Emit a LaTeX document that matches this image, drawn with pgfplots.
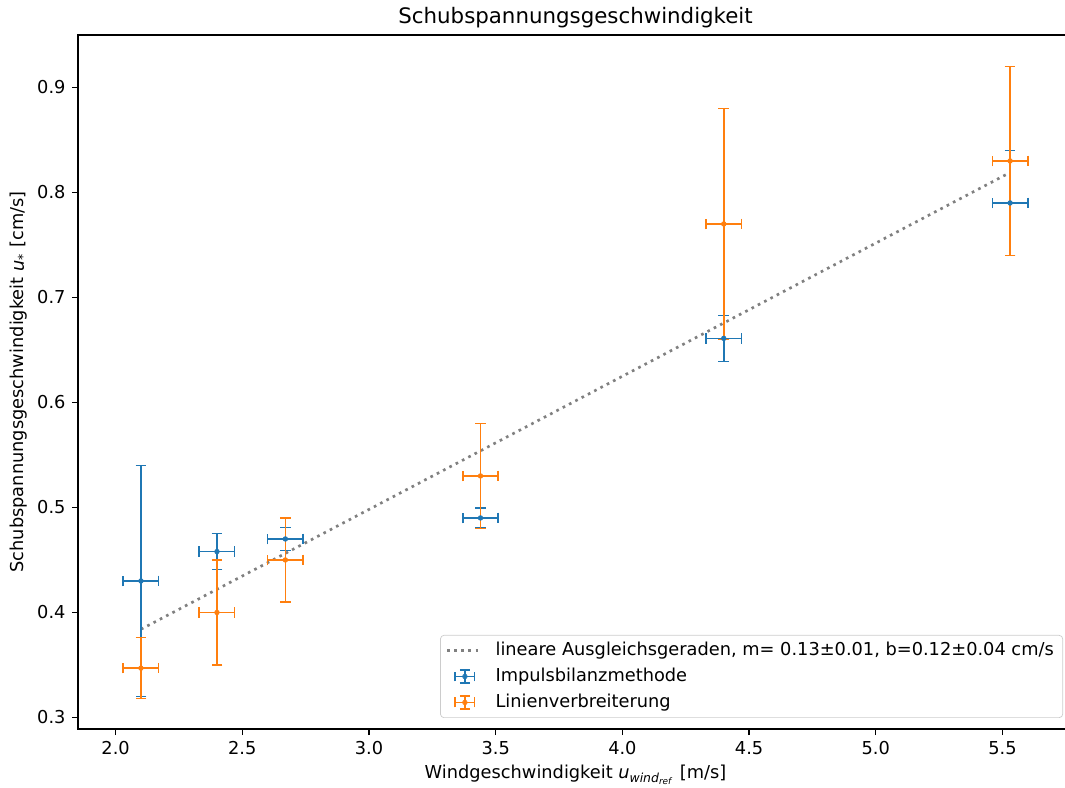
\documentclass[border=0pt]{standalone}
\usepackage{fontspec}
\setmainfont{DejaVu Sans}
\setsansfont{DejaVu Sans}
\usepackage{pgfplots}
\usepackage{pgfplotstable}
\pgfplotsset{compat=1.18}

\definecolor{mplblue}{HTML}{1F77B4}
\definecolor{mplorange}{HTML}{FF7F0E}
\definecolor{mplgray}{HTML}{808080}
\definecolor{legendframe}{HTML}{CCCCCC}

% x, y, x error, y error
\pgfplotstableread{
x     y      xe     ye
2.10  0.430  0.07   0.110
2.40  0.458  0.07   0.017
2.67  0.470  0.07   0.011
3.44  0.490  0.07   0.0095
4.40  0.661  0.07   0.022
5.53  0.790  0.07   0.050
}\impuls

\pgfplotstableread{
x     y      xe     ye
2.10  0.347  0.07   0.029
2.40  0.400  0.07   0.050
2.67  0.450  0.07   0.040
3.44  0.530  0.07   0.050
4.40  0.770  0.07   0.110
5.53  0.830  0.07   0.090
}\linien

\pgfplotsset{
  every axis title/.style={at={(0.5,1)}, anchor=base, yshift=6.4pt},
  dotlegend/.style={
    legend image code/.code={\draw[##1] (0pt,0pt) -- (20pt,0pt);}
  },
  errlegend/.style={
    legend image code/.code={
      \draw[##1, line width=0.85pt]
        (4.5pt,0pt) -- (15.5pt,0pt)
        (10pt,-3.6pt) -- (10pt,3.6pt)
        (4.5pt,-2.8pt) -- (4.5pt,2.8pt)
        (15.5pt,-2.8pt) -- (15.5pt,2.8pt)
        (7.2pt,3.6pt) -- (12.8pt,3.6pt)
        (7.2pt,-3.6pt) -- (12.8pt,-3.6pt);
      \fill[##1] (10pt,0pt) circle (1.3pt);
    }
  },
  errdata/.style={
    only marks, mark=*, mark size=1.3pt,
    forget plot,
    error bars/.cd,
      x dir=both, x explicit,
      y dir=both, y explicit,
      error bar style={line width=0.85pt},
      error mark options={rotate=90, line width=0.85pt, mark size=3pt},
  },
}

\begin{document}
\begin{tikzpicture}
\begin{axis}[
  name=ax,
  scale only axis,
  width=559.7pt, height=390.4pt,
  xmin=1.8515, xmax=5.7785,
  ymin=0.289, ymax=0.950,
  xtick={2.0,2.5,3.0,3.5,4.0,4.5,5.0,5.5},
  ytick={0.3,0.4,0.5,0.6,0.7,0.8,0.9},
  /pgf/number format/assume math mode=true,
  xticklabel style={/pgf/number format/.cd, fixed, fixed zerofill, precision=1},
  yticklabel style={/pgf/number format/.cd, fixed, fixed zerofill, precision=1},
  tick label style={font=\fontsize{10}{12}\selectfont},
  tick align=outside,
  tick pos=left,
  major tick length=3.5pt,
  tick style={black, line width=0.8pt},
  axis line style={line width=0.8pt},
  title={Schubspannungsgeschwindigkeit},
  title style={font=\fontsize{12}{14.4}\selectfont},
  xlabel={Windgeschwindigkeit \textit{u}\textsubscript{\textit{wind}\textsubscript{\textit{ref}}} [m/s]},
  ylabel={Schubspannungsgeschwindigkeit \textit{u}\textsubscript{*} [cm/s]},
  xlabel style={font=\fontsize{10}{12}\selectfont, at={(axis description cs:0.5,-0.072)}, anchor=base},
  ylabel style={font=\fontsize{10}{12}\selectfont, at={(axis description cs:-0.0543,0.5)}, anchor=base, rotate=0},
  legend style={
    at={(1,0)}, anchor=south east, xshift=-5.6pt, yshift=6.2pt,
    draw=legendframe, rounded corners=2pt,
    fill=white, fill opacity=0.8, text opacity=1,
    font=\fontsize{10}{12}\selectfont,
    row sep=1.5pt,
    /tikz/every odd column/.append style={column sep=4.5pt},
  },
  legend cell align=left,
]
% least-squares line
\addplot[mplgray, line width=1.5pt, dash pattern=on 1.5pt off 2.5pt, dotlegend]
  coordinates {(2.10,0.384) (5.53,0.819)};
\addlegendentry{lineare Ausgleichsgeraden, m= 0.13±0.01, b=0.12±0.04 cm/s}

\addplot[mplblue, errdata] table[x=x, y=y, x error=xe, y error=ye] {\impuls};
\addplot[mplorange, errdata] table[x=x, y=y, x error=xe, y error=ye] {\linien};

\addlegendimage{mplblue, errlegend}
\addlegendentry{Impulsbilanzmethode}
\addlegendimage{mplorange, errlegend}
\addlegendentry{Linienverbreiterung}
\end{axis}
\pgfresetboundingbox
\useasboundingbox (ax.south west) ++(-43.875pt,-32.625pt) rectangle ++(599.06pt,442.69pt);
\end{tikzpicture}
\end{document}
